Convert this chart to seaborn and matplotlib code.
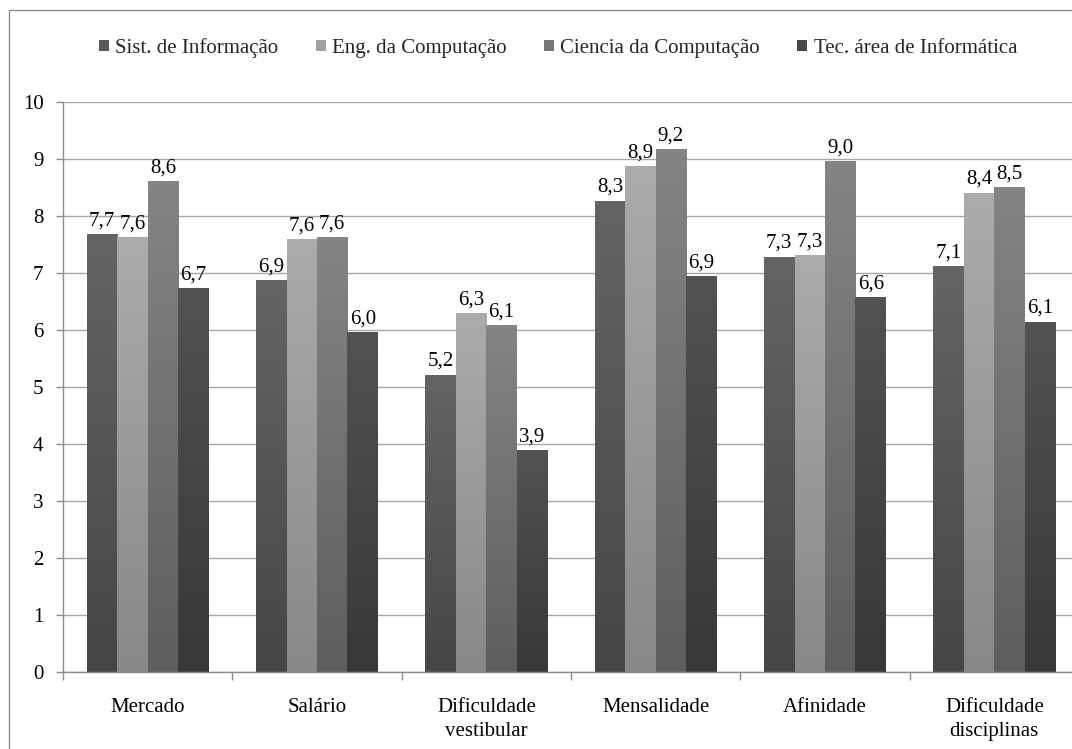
import numpy as np
import pandas as pd
import matplotlib
matplotlib.use("Agg")
import matplotlib.pyplot as plt
from matplotlib.colors import LinearSegmentedColormap
from matplotlib.patches import Rectangle, Patch
import seaborn as sns

# Criteria (x axis) and the four course groups
categories = ["Mercado", "Salário", "Dificuldade\nvestibular", "Mensalidade",
              "Afinidade", "Dificuldade\ndisciplinas"]
series_names = ["Sist. de Informação", "Eng. da Computação",
                "Ciencia da Computação", "Tec. área de Informática"]

sist_info = [7.68, 6.86, 5.21, 8.26, 7.28, 7.11]
eng_comp = [7.62, 7.58, 6.29, 8.86, 7.30, 8.40]
cien_comp = [8.61, 7.62, 6.08, 9.17, 8.96, 8.50]
tec_info = [6.72, 5.96, 3.89, 6.94, 6.57, 6.14]

y_ticks = [0, 1, 2, 3, 4, 5, 6, 7, 8, 9, 10]

# gradient colours for each series: (top, bottom)
grad = [("#646464", "#464646"), ("#ababab", "#888888"),
        ("#848484", "#5e5e5e"), ("#525252", "#383838")]
legend_colors = ["#595959", "#a0a0a0", "#767676", "#474747"]

values = [sist_info, eng_comp, cien_comp, tec_info]
df = pd.DataFrame({
    "criterio": np.tile(categories, len(series_names)),
    "curso": np.repeat(series_names, len(categories)),
    "nota": np.concatenate(values),
})

sns.set_theme(style="white")
plt.rcParams["font.family"] = ["Liberation Serif", "DejaVu Serif"]
FS = 15
plt.rcParams["font.size"] = FS

W, H = 1072, 749
fig = plt.figure(figsize=(W / 100, H / 100), dpi=100)
fig.patch.set_facecolor("white")

# outer chart frame
fig.add_artist(Rectangle((9 / W, -0.2), 1.2, 1 - 10 / H + 0.2,
                         transform=fig.transFigure, fill=False,
                         edgecolor="#8c8c8c", linewidth=1.0))

left_px, right_px, bottom_px, top_px = 63, 1079, 672, 102
ax = fig.add_axes([left_px / W, 1 - bottom_px / H,
                   (right_px - left_px) / W, (bottom_px - top_px) / H])

sns.barplot(data=df, x="criterio", y="nota", hue="curso",
            order=categories, hue_order=series_names,
            palette=legend_colors, width=0.72, gap=0, ax=ax,
            errorbar=None, legend=False, saturation=1)

# replace flat fills with vertical gradients and add value labels
for si, cont in enumerate(ax.containers):
    top_c, bot_c = grad[si]
    cmap = LinearSegmentedColormap.from_list(f"g{si}", [bot_c, top_c])
    for bar, v in zip(cont.patches, values[si]):
        x0, w, h = bar.get_x(), bar.get_width(), bar.get_height()
        g = np.linspace(1, 0, 64).reshape(-1, 1)
        ax.imshow(g, extent=[x0, x0 + w, 0, h], aspect="auto", cmap=cmap,
                  vmin=0, vmax=1, zorder=2, interpolation="bilinear")
        bar.set_facecolor("none")
        bar.set_edgecolor("none")
        ax.annotate(f"{v:.1f}".replace(".", ","), (x0 + w / 2, h),
                    xytext=(0, 3), textcoords="offset points",
                    ha="center", va="bottom", fontsize=FS, color="black",
                    zorder=4)

ax.set_xlim(-0.5, len(categories) - 0.5)
ax.set_ylim(0, 10)
ax.set_yticks(y_ticks)
ax.set_yticklabels([str(t) for t in y_ticks])
ax.yaxis.grid(True, color="#a6a6a6", linewidth=1.0)
ax.set_axisbelow(True)
ax.set_xlabel("")
ax.set_ylabel("")

for s in ["top", "right"]:
    ax.spines[s].set_visible(False)
for s in ["left", "bottom"]:
    ax.spines[s].set_color("#8c8c8c")
    ax.spines[s].set_linewidth(1.0)

ax.tick_params(axis="y", which="major", length=5, width=1, color="#8c8c8c",
               pad=9, labelsize=FS, left=True, labelcolor="black")
ax.set_xticks(range(len(categories)))
ax.set_xticklabels(categories, linespacing=1.3)
ax.tick_params(axis="x", which="major", length=0, pad=19, labelsize=FS,
               labelcolor="black")
ax.set_xticks(np.arange(-0.5, len(categories) + 0.5, 1.0), minor=True)
ax.tick_params(axis="x", which="minor", length=6, width=1, color="#8c8c8c",
               bottom=True)
for lbl in ax.get_xticklabels():
    lbl.set_verticalalignment("top")

handles = [Patch(facecolor=c, edgecolor="none", label=n)
           for c, n in zip(legend_colors, series_names)]
fig.legend(handles=handles, loc="center", bbox_to_anchor=(558 / W, 1 - 48 / H),
           ncol=4, frameon=False, fontsize=FS, handlelength=0.48,
           handleheight=0.48, handletextpad=0.3, columnspacing=1.8,
           borderaxespad=0)

fig.savefig("out.png", dpi=100, facecolor="white")
